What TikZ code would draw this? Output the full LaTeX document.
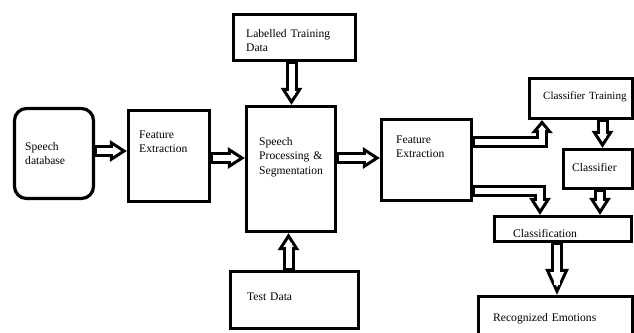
\documentclass[tikz,border=0pt]{standalone}
\usepackage{fontspec}
\setmainfont{Liberation Serif}
\usetikzlibrary{arrows.meta, positioning, calc}

\begin{document}
\begin{tikzpicture}[
    x=1pt, y=-1pt,
    box/.style={draw, line width=3.2pt, inner sep=0pt},
    txt/.style={anchor=base west, inner sep=0pt, text width=130pt, align=left, font=\fontsize{11.6}{14.5}\selectfont},
    barrow/.style={draw, line width=12pt, -{Triangle[open, length=17pt, width=21pt, line width=3pt]},
        postaction={draw=white, line width=6pt, arrows=-, shorten <=1.6pt, shorten >=9.5pt}}
]
    \useasboundingbox (0,0) rectangle (634,332);

    % Input side
    \node[box, rounded corners=12pt, minimum width=79pt, minimum height=90pt] (sd) at (54,153.5) {};
    \node[txt] (sd-t) at (25,150) {Speech\\database};
    \node[box, minimum width=81pt, minimum height=91pt] (fe1) at (169,156) {};
    \node[txt] (fe1-t) at (139,138) {Feature\\Extraction};

    % Processing
    \node[box, minimum width=89pt, minimum height=125pt] (spp) at (291,169) {};
    \node[txt] (spp-t) at (259,145) {Speech\\Processing \&\\Segmentation};
    \node[box, minimum width=122pt, minimum height=46pt] (ltd) at (294.5,37.5) {};
    \node[txt] (ltd-t) at (246,37) {Labelled Training\\Data};
    \node[box, minimum width=128pt, minimum height=57pt] (td) at (294.5,300) {};
    \node[txt] (td-t) at (247,300) {Test Data};
    \node[box, minimum width=90pt, minimum height=81pt] (fe2) at (426.5,160) {};
    \node[txt] (fe2-t) at (396,143) {Feature\\Extraction};

    % Classifier side
    \node[box, minimum width=103pt, minimum height=40pt] (ct) at (581,98.5) {};
    \node[txt, font=\fontsize{11}{14}\selectfont] (ct-t) at (543,99) {Classifier Training};
    \node[box, minimum width=69pt, minimum height=39pt] (cl) at (598,169) {};
    \node[txt] (cl-t) at (572,171) {Classifier};
    \node[box, minimum width=137pt, minimum height=25pt] (cf) at (563,229) {};
    \node[txt] (cf-t) at (513,237) {Classification};
    \node[box, minimum width=154pt, minimum height=47pt] (re) at (555.5,320) {};
    \node[txt] (re-t) at (493,321) {Recognized Emotions};

    % Arrows
    \draw[barrow] ([yshift=2.5pt]sd.east) -- ([yshift=5pt]fe1.west);
    \draw[barrow] ([yshift=-2pt]fe1.east) -- ([yshift=11pt]spp.west);
    \draw[barrow] ([yshift=11pt]spp.east) -- ([yshift=2pt]fe2.west);
    \draw[barrow] ([xshift=-3pt]ltd.south) -- ([xshift=0.5pt]spp.north);
    \draw[barrow] ([xshift=-6pt]td.north) -- ([xshift=-2.5pt]spp.south);

    \draw[barrow, -{Triangle[open, length=13pt, width=21pt, line width=3pt]}, postaction={draw=white, line width=6pt, arrows=-, shorten <=1.6pt, shorten >=7.5pt}] ([yshift=18.5pt]fe2.east) -| ([xshift=-39pt]ct.south);
    \draw[barrow] ([yshift=-31pt]fe2.east) -| ([xshift=-23pt]cf.north);
    \draw[barrow] ([xshift=21.5pt]ct.south) -- ([xshift=4.5pt]cl.north);
    \draw[barrow] ([xshift=2pt]cl.south) -- ([xshift=37pt]cf.north);
    \draw[barrow, -{Triangle[open, length=26pt, width=23pt, line width=3pt]}, postaction={draw=white, line width=6pt, arrows=-, shorten <=1.6pt, shorten >=14pt}] ([xshift=-6pt]cf.south) -- ([xshift=1.5pt]re.north);
\end{tikzpicture}
\end{document}
